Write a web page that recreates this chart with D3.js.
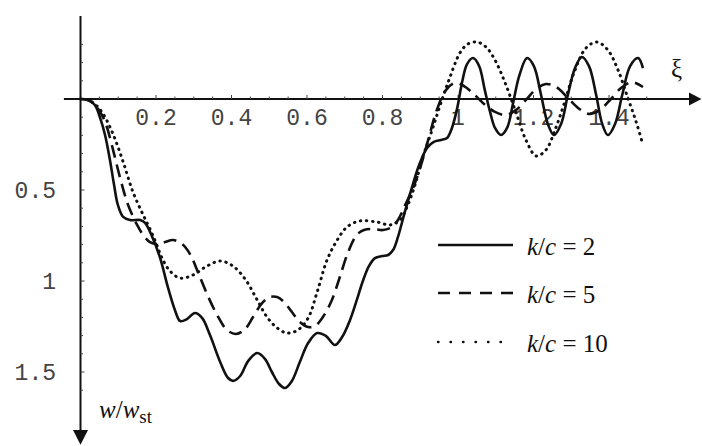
<!DOCTYPE html>
<html>
<head>
<meta charset="utf-8">
<script src="https://cdn.jsdelivr.net/npm/d3@7"></script>
<style>
  html, body { margin: 0; padding: 0; background: #fff; }
  svg { display: block; }
</style>
</head>
<body>
<svg id="chart" width="702" height="446"></svg>
<script>
// ---------------- data ----------------
const seriesNames = ["k/c = 2", "k/c = 5", "k/c = 10"];
const kcValues = ["2", "5", "10"];

const xiK2 = [0,0.020,0.038,0.052,0.065,0.078,0.089,0.099,0.113,0.131,0.158,0.171,0.189,0.211,0.232,0.250,0.264,0.282,0.303,0.322,0.343,0.370,0.391,0.404,0.423,0.444,0.468,0.489,0.507,0.526,0.542,0.560,0.581,0.603,0.627,0.650,0.674,0.693,0.714,0.732,0.748,0.764,0.780,0.799,0.815,0.828,0.841,0.857,0.876,0.897,0.918,0.936,0.955,0.971,0.984,0.998,1.011,1.024,1.040,1.056,1.071,1.085,1.098,1.114,1.130,1.146,1.162,1.183,1.201,1.220,1.238,1.254,1.273,1.291,1.310,1.328,1.347,1.366,1.382,1.397,1.416,1.435,1.456,1.477,1.490];
const wK2  = [0,0.005,0.033,0.104,0.198,0.335,0.473,0.582,0.648,0.665,0.665,0.681,0.753,0.874,1.038,1.159,1.220,1.209,1.176,1.203,1.297,1.445,1.533,1.549,1.522,1.440,1.396,1.429,1.500,1.566,1.588,1.549,1.445,1.341,1.286,1.302,1.352,1.308,1.214,1.104,1.000,0.918,0.874,0.863,0.857,0.830,0.758,0.637,0.500,0.363,0.269,0.236,0.225,0.214,0.159,0.049,-0.093,-0.192,-0.225,-0.181,-0.049,0.071,0.159,0.198,0.159,0.022,-0.126,-0.225,-0.181,-0.022,0.137,0.198,0.137,-0.022,-0.170,-0.231,-0.181,-0.022,0.137,0.198,0.137,-0.022,-0.181,-0.225,-0.170];

const xiK5 = [0,0.025,0.052,0.068,0.083,0.105,0.126,0.150,0.166,0.184,0.205,0.224,0.245,0.269,0.290,0.311,0.335,0.362,0.388,0.412,0.436,0.457,0.481,0.502,0.521,0.539,0.560,0.581,0.603,0.621,0.642,0.666,0.687,0.709,0.732,0.751,0.775,0.801,0.825,0.841,0.860,0.881,0.902,0.921,0.944,0.968,0.992,1.016,1.042,1.069,1.098,1.127,1.154,1.180,1.207,1.233,1.260,1.289,1.318,1.347,1.376,1.405,1.432,1.461,1.490];
const wK5  = [0,0.011,0.071,0.143,0.253,0.434,0.582,0.692,0.747,0.786,0.797,0.786,0.775,0.797,0.852,0.951,1.071,1.187,1.269,1.291,1.264,1.198,1.121,1.088,1.088,1.115,1.170,1.225,1.253,1.247,1.198,1.104,0.978,0.841,0.747,0.720,0.714,0.720,0.703,0.665,0.582,0.489,0.363,0.225,0.060,-0.049,-0.088,-0.071,-0.027,0.027,0.071,0.088,0.060,0.005,-0.055,-0.082,-0.066,-0.011,0.049,0.082,0.060,0.000,-0.060,-0.093,-0.066];

const xiK10 = [0,0.020,0.038,0.060,0.086,0.113,0.139,0.166,0.184,0.200,0.216,0.237,0.264,0.298,0.335,0.370,0.404,0.438,0.468,0.494,0.521,0.547,0.576,0.603,0.627,0.653,0.680,0.706,0.740,0.785,0.820,0.846,0.865,0.886,0.907,0.934,0.960,0.979,1.005,1.026,1.050,1.074,1.098,1.124,1.154,1.180,1.207,1.233,1.257,1.281,1.307,1.339,1.368,1.397,1.424,1.450,1.472,1.490];
const wK10  = [0,0.005,0.027,0.082,0.192,0.346,0.511,0.637,0.714,0.791,0.874,0.945,0.984,0.967,0.918,0.890,0.918,0.995,1.104,1.198,1.258,1.286,1.269,1.203,1.060,0.885,0.775,0.703,0.670,0.676,0.692,0.665,0.593,0.473,0.319,0.154,-0.011,-0.121,-0.253,-0.302,-0.313,-0.286,-0.214,-0.093,0.077,0.225,0.313,0.280,0.170,0.027,-0.143,-0.280,-0.313,-0.269,-0.159,-0.005,0.126,0.253];

const xTickLabels = ["0.2", "0.4", "0.6", "0.8", "1", "1.2", "1.4"];
const xTickValues = [0.2, 0.4, 0.6, 0.8, 1.0, 1.2, 1.4];
const yTickLabels = ["0.5", "1", "1.5"];
const yTickValues = [0.5, 1.0, 1.5];

// ---------------- drawing ----------------
const svg = d3.select("#chart");
const ink = "#111";

const x = d3.scaleLinear().domain([0, 1]).range([80.5, 458]);
const y = d3.scaleLinear().domain([0, 1]).range([99, 281]);

// axes lines
svg.append("line").attr("x1", x(-0.044)).attr("x2", x(1.62)).attr("y1", y(0)).attr("y2", y(0))
  .attr("stroke", ink).attr("stroke-width", 2);
svg.append("line").attr("x1", x(0)).attr("x2", x(0)).attr("y1", y(-0.456)).attr("y2", y(1.82))
  .attr("stroke", ink).attr("stroke-width", 2);

// arrowheads
svg.append("path")
  .attr("d", `M${x(1.612)},${y(0) - 6.5} L${x(1.645)},${y(0)} L${x(1.612)},${y(0) + 6.5} Z`)
  .attr("fill", ink);
svg.append("path")
  .attr("d", `M${x(0) - 7.5},${y(1.818)} L${x(0)},${y(1.90)} L${x(0) + 7.5},${y(1.818)} Z`)
  .attr("fill", ink);

// x ticks (every 0.05, small upward)
const xMinor = d3.range(1, 31).map(i => i * 0.05);
svg.append("g").selectAll("line").data(xMinor).join("line")
  .attr("x1", d => x(d)).attr("x2", d => x(d))
  .attr("y1", y(0)).attr("y2", (d, i) => (i % 4 === 3) ? y(0) - 4 : y(0) - 2.5)
  .attr("stroke", "#444").attr("stroke-width", 1);

// y ticks (every 0.1, to the right)
const yMinor = d3.range(-3, 17).filter(i => i !== 0).map(i => i * 0.1);
svg.append("g").selectAll("line").data(yMinor).join("line")
  .attr("x1", x(0)).attr("x2", (d) => (Math.abs(Math.round(d * 10)) % 5 === 0) ? x(0) + 4 : x(0) + 2.5)
  .attr("y1", d => y(d)).attr("y2", d => y(d))
  .attr("stroke", "#444").attr("stroke-width", 1);

// tick labels
const monoFont = "'Liberation Mono', 'Courier New', monospace";
svg.append("g").selectAll("text").data(xTickValues).join("text")
  .attr("x", d => x(d)).attr("y", y(0) + 26)
  .attr("text-anchor", "middle")
  .attr("font-family", monoFont).attr("font-size", 23).attr("fill", "#444")
  .text((d, i) => xTickLabels[i]);
svg.append("g").selectAll("text").data(yTickValues).join("text")
  .attr("x", 56).attr("y", d => y(d) + 8)
  .attr("text-anchor", "end")
  .attr("font-family", monoFont).attr("font-size", 23).attr("fill", "#444")
  .text((d, i) => yTickLabels[i]);

// axis titles
const serif = "'Liberation Serif', 'Times New Roman', serif";
svg.append("text").attr("x", 671).attr("y", 77)
  .attr("font-family", serif).attr("font-size", 25).attr("fill", ink).text("ξ");
const yt = svg.append("text").attr("x", 99).attr("y", 418)
  .attr("font-family", serif).attr("fill", ink);
yt.append("tspan").attr("font-size", 25).attr("font-style", "italic").text("w");
yt.append("tspan").attr("font-size", 25).text("/");
yt.append("tspan").attr("font-size", 25).attr("font-style", "italic").text("w");
yt.append("tspan").attr("font-size", 19).attr("dy", 5).text("st");

// curves
const styles = [
  { dash: null, width: 2.6, cap: "butt", legendDash: null, legendWidth: 2.6 },
  { dash: "13,7", width: 2.6, cap: "butt", legendDash: "12,9", legendWidth: 2.6 },
  { dash: "0.5,5.6", width: 3, cap: "round", legendDash: "0.5,12", legendWidth: 2.4 }
];
const series = [
  xiK2.map((v, i) => [v, wK2[i]]),
  xiK5.map((v, i) => [v, wK5[i]]),
  xiK10.map((v, i) => [v, wK10[i]])
];
const line = d3.line().x(d => x(d[0])).y(d => y(d[1])).curve(d3.curveCatmullRom.alpha(0.5));

svg.append("g").selectAll("path").data(series).join("path")
  .attr("d", line)
  .attr("fill", "none")
  .attr("stroke", ink)
  .attr("stroke-width", (d, i) => styles[i].width)
  .attr("stroke-linecap", (d, i) => styles[i].cap)
  .attr("stroke-linejoin", "round")
  .attr("stroke-dasharray", (d, i) => styles[i].dash);

// legend
const legendRowY = [245, 293, 342];
const lg = svg.append("g");
seriesNames.forEach((name, i) => {
  lg.append("line")
    .attr("x1", 438).attr("x2", 513).attr("y1", legendRowY[i]).attr("y2", legendRowY[i])
    .attr("stroke", ink)
    .attr("stroke-width", styles[i].legendWidth)
    .attr("stroke-linecap", styles[i].cap)
    .attr("stroke-dasharray", styles[i].legendDash);
  const t = lg.append("text").attr("x", 527).attr("y", legendRowY[i] + 10)
    .attr("font-family", serif).attr("font-size", 25).attr("fill", ink);
  t.append("tspan").attr("font-style", "italic").text("k");
  t.append("tspan").text("/");
  t.append("tspan").attr("font-style", "italic").text("c");
  t.append("tspan").text(" = " + kcValues[i]);
});
</script>
</body>
</html>
